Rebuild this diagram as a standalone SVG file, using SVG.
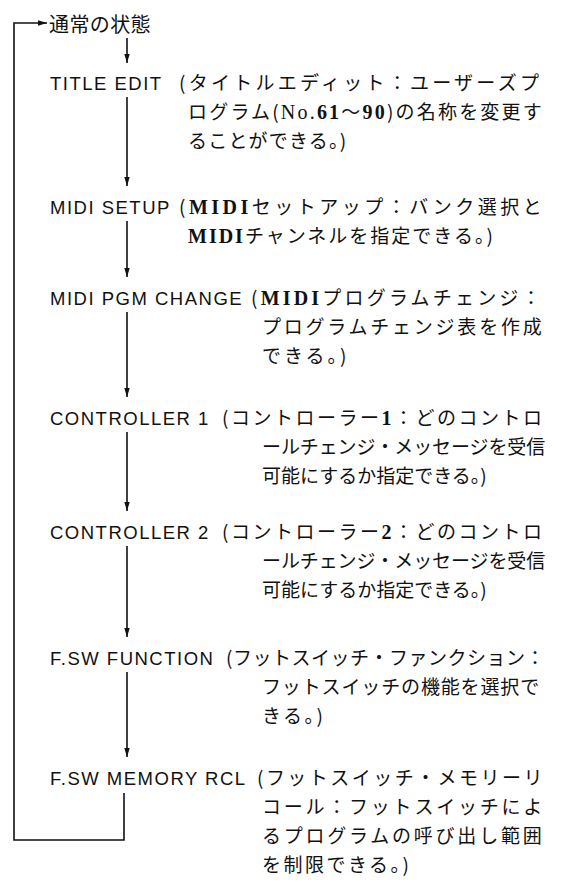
<svg xmlns="http://www.w3.org/2000/svg" width="563" height="882" viewBox="0 0 563 882">
<style>
.hd{font-family:"Liberation Sans","DejaVu Sans",sans-serif;font-size:18.5px;letter-spacing:1.5px;fill:#111}
.jp{font-family:"Noto Sans CJK JP","Noto Sans CJK SC",sans-serif;font-size:19px;fill:#111}
.sr{font-family:"Liberation Serif",serif;font-size:20px;font-weight:bold}
.conn{stroke:#111;stroke-width:1.6;fill:none}
</style>
<defs>
<marker id="ah" viewBox="0 0 10 6" refX="10" refY="3" markerWidth="9" markerHeight="5.4" markerUnits="userSpaceOnUse" orient="auto"><path d="M0,0 L10,3 L0,6 z" fill="#111"/></marker>
</defs>
<rect width="563" height="882" fill="#fff"/>
<g id="connectors">
<path class="conn" d="M124,793 V840 H14 V23 H47" marker-end="url(#ah)"/>
<line class="conn" x1="127" y1="38" x2="127" y2="63" marker-end="url(#ah)"/>
<line class="conn" x1="127" y1="97" x2="127" y2="186" marker-end="url(#ah)"/>
<line class="conn" x1="127" y1="221" x2="127" y2="277" marker-end="url(#ah)"/>
<line class="conn" x1="127" y1="312" x2="127" y2="397" marker-end="url(#ah)"/>
<line class="conn" x1="127" y1="432" x2="127" y2="511" marker-end="url(#ah)"/>
<line class="conn" x1="127" y1="546" x2="127" y2="637" marker-end="url(#ah)"/>
<line class="conn" x1="127" y1="672" x2="127" y2="757" marker-end="url(#ah)"/>
</g>
<g id="node-normal">
<text class="jp" x="49" y="32" style="font-size:20px;letter-spacing:0.4px">通常の状態</text>
</g>
<g id="node-title-edit">
<text class="hd" x="50" y="90">TITLE EDIT</text>
<text class="jp" x="179" y="90" style="letter-spacing:3.26px">(タイトルエディット：ユーザーズプ</text>
<text class="jp" x="188" y="119" style="letter-spacing:2.2px">ログラム(<tspan class="sr" style="font-weight:normal">No.</tspan><tspan class="sr">61</tspan>～<tspan class="sr">90</tspan>)の名称を変更す</text>
<text class="jp" x="188" y="148" style="letter-spacing:1.2px">ることができる。)</text>
</g>
<g id="node-midi-setup">
<text class="hd" x="50" y="214">MIDI SETUP</text>
<text class="jp" x="179" y="214" style="letter-spacing:3.5px">(<tspan class="sr">MIDI</tspan>セットアップ：バンク選択と</text>
<text class="jp" x="188" y="243" style="letter-spacing:2px"><tspan class="sr">MIDI</tspan>チャンネルを指定できる。)</text>
</g>
<g id="node-midi-pgm-change">
<text class="hd" x="50" y="305">MIDI PGM CHANGE</text>
<text class="jp" x="251" y="305" style="letter-spacing:3.2px">(<tspan class="sr">MIDI</tspan>プログラムチェンジ：</text>
<text class="jp" x="262" y="334" style="letter-spacing:2.77px">プログラムチェンジ表を作成</text>
<text class="jp" x="262" y="363" style="letter-spacing:3px">できる。)</text>
</g>
<g id="node-controller-1">
<text class="hd" x="50" y="425">CONTROLLER 1</text>
<text class="jp" x="222" y="425" style="letter-spacing:2.5px">(コントローラー<tspan class="sr">1</tspan>：どのコントロ</text>
<text class="jp" x="262" y="454" style="letter-spacing:-0.1px">ールチェンジ・メッセージを受信</text>
<text class="jp" x="262" y="483" style="letter-spacing:0px">可能にするか指定できる。)</text>
</g>
<g id="node-controller-2">
<text class="hd" x="50" y="539">CONTROLLER 2</text>
<text class="jp" x="222" y="539" style="letter-spacing:2.5px">(コントローラー<tspan class="sr">2</tspan>：どのコントロ</text>
<text class="jp" x="262" y="568" style="letter-spacing:-0.1px">ールチェンジ・メッセージを受信</text>
<text class="jp" x="262" y="597" style="letter-spacing:0px">可能にするか指定できる。)</text>
</g>
<g id="node-fsw-function">
<text class="hd" x="50" y="665">F.SW FUNCTION</text>
<text class="jp" x="226" y="665" style="letter-spacing:0.5px">(フットスイッチ・ファンクション：</text>
<text class="jp" x="262" y="694" style="letter-spacing:0.86px">フットスイッチの機能を選択で</text>
<text class="jp" x="262" y="723" style="letter-spacing:2.5px">きる。)</text>
</g>
<g id="node-fsw-memory-rcl">
<text class="hd" x="50" y="785">F.SW MEMORY RCL</text>
<text class="jp" x="257" y="785" style="letter-spacing:2.46px">(フットスイッチ・メモリーリ</text>
<text class="jp" x="262" y="814" style="letter-spacing:2.77px">コール：フットスイッチによ</text>
<text class="jp" x="262" y="843" style="letter-spacing:2.77px">るプログラムの呼び出し範囲</text>
<text class="jp" x="262" y="872" style="letter-spacing:2.5px">を制限できる。)</text>
</g>
</svg>
